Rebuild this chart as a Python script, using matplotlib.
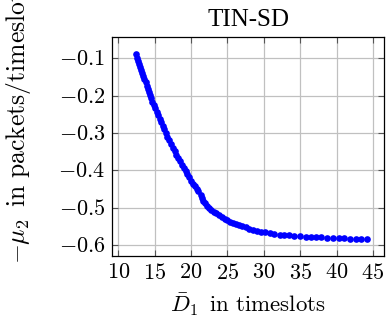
import matplotlib
matplotlib.use("Agg")
import matplotlib.pyplot as plt
from matplotlib.ticker import FuncFormatter

plt.rcParams['mathtext.fontset'] = 'cm'
plt.rcParams['font.family'] = ['Liberation Serif', 'DejaVu Serif']

title = "TIN-SD"
xlabel = r'$\bar{D}_1\ \,\mathrm{in\ timeslots}$'
ylabel = r'$-\mu_2\ \,\mathrm{in\ packets/timeslot}$'
xticks = [10, 15, 20, 25, 30, 35, 40, 45]
yticks = [-0.1, -0.2, -0.3, -0.4, -0.5, -0.6]

d1 = [12.40, 12.55, 12.70, 12.85, 13.00, 13.15, 13.30, 13.45, 13.60, 13.75,
      13.90, 14.05, 14.20, 14.35, 14.50, 14.70, 14.90, 15.10, 15.30, 15.50,
      15.70, 15.90, 16.10, 16.30, 16.50, 16.75, 17.00, 17.25, 17.50, 17.75,
      18.00, 18.25, 18.50, 18.75, 19.00, 19.25, 19.50, 19.75, 20.00, 20.25,
      20.50, 20.75, 20.95, 21.30, 21.50, 21.70, 21.90, 22.20, 22.50, 22.80,
      23.10, 23.40, 23.80, 24.20, 24.60, 25.00, 25.40, 25.80, 26.20, 26.60,
      27.00, 27.50, 28.00, 28.50, 29.00, 29.60, 30.20, 30.80, 31.40, 32.20,
      32.80, 33.50, 34.20, 35.00, 35.80, 36.50, 37.20, 37.90, 38.70, 39.50,
      40.30, 41.00, 41.80, 42.60, 43.40, 44.20]
neg_mu2 = [-0.090, -0.100, -0.108, -0.116, -0.124, -0.133, -0.141, -0.149, -0.157, -0.165,
           -0.174, -0.182, -0.191, -0.199, -0.207, -0.216, -0.225, -0.234, -0.243, -0.252,
           -0.262, -0.271, -0.281, -0.290, -0.299, -0.310, -0.320, -0.330, -0.339, -0.349,
           -0.358, -0.367, -0.376, -0.385, -0.394, -0.403, -0.411, -0.419, -0.428, -0.436,
           -0.443, -0.450, -0.456, -0.467, -0.474, -0.481, -0.487, -0.494, -0.500, -0.505,
           -0.510, -0.515, -0.520, -0.525, -0.529, -0.533, -0.537, -0.540, -0.543, -0.546,
           -0.549, -0.552, -0.556, -0.559, -0.562, -0.564, -0.566, -0.568, -0.570, -0.572,
           -0.573, -0.574, -0.575, -0.576, -0.577, -0.577, -0.578, -0.579, -0.580, -0.581,
           -0.581, -0.582, -0.583, -0.583, -0.584, -0.584]

fig = plt.figure(figsize=(3.87, 3.27), dpi=100)
ax = fig.add_axes([0.290, 0.217, 0.702, 0.671])

ax.plot(d1, neg_mu2, linestyle='none', marker='o', markersize=4.8,
        color='#0000ff', markeredgewidth=0)

ax.set_xlim(9.17, 46.5)
ax.set_ylim(-0.629, -0.0425)
ax.set_xticks(xticks)
ax.set_yticks(yticks)
ax.xaxis.set_major_formatter(FuncFormatter(lambda v, p: r'$%d$' % v))
ax.yaxis.set_major_formatter(FuncFormatter(lambda v, p: r'$%.1f$' % v))
ax.grid(True, color='#c0c0c0', linewidth=0.9)
ax.set_axisbelow(True)
ax.tick_params(direction='in', top=True, right=True, length=4, width=0.8,
               color='#555555', labelsize=16)
ax.tick_params(axis='x', pad=6)
ax.tick_params(axis='y', pad=5)
for s in ax.spines.values():
    s.set_linewidth(0.9)

ax.set_title(title, fontsize=18, pad=8)
ax.set_xlabel(xlabel, fontsize=16.5)
ax.set_ylabel(ylabel, fontsize=18.5, ha='left')
ax.xaxis.set_label_coords(0.5, -0.16)
ax.yaxis.set_label_coords(-0.292, -0.035)

fig.savefig("out.png", dpi=100)
